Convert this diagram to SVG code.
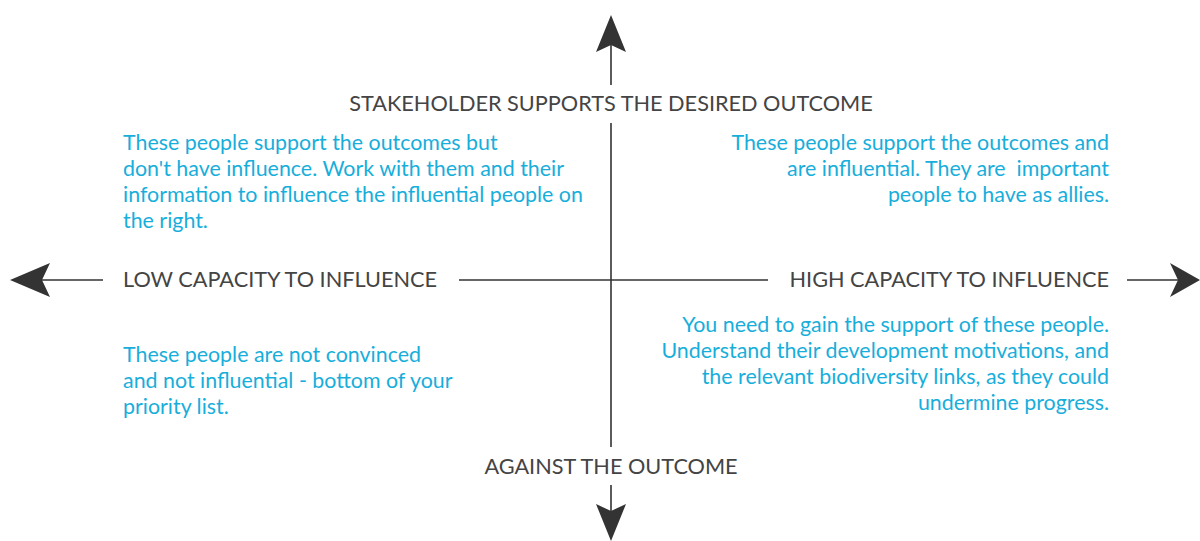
<svg xmlns="http://www.w3.org/2000/svg" width="1200" height="541" viewBox="0 0 1200 541">
<style>
.ax{font-family:Lato,"Liberation Sans",sans-serif;font-size:21.7px;fill:#444}
.q{font-family:Lato,"Liberation Sans",sans-serif;font-size:21.4px;fill:#17aedb;white-space:pre}
.ln{stroke:#333;stroke-width:1.6;fill:none}
.ah{fill:#333}
</style>
<rect width="1200" height="541" fill="#fff"/>
<g id="connectors">
<line class="ln" x1="611" y1="45" x2="611" y2="85"/>
<line class="ln" x1="611" y1="123" x2="611" y2="447"/>
<line class="ln" x1="611" y1="485" x2="611" y2="517"/>
<line class="ln" x1="42" y1="280" x2="103" y2="280"/>
<line class="ln" x1="459" y1="280" x2="768" y2="280"/>
<line class="ln" x1="1127" y1="280" x2="1190" y2="280"/>
<path class="ah" d="M611,15 L626,52 L611,45 L596,52 Z"/>
<path class="ah" d="M611,541 L626,504 L611,511 L596,504 Z"/>
<path class="ah" d="M10,280 L50,263 L42,280 L50,297 Z"/>
<path class="ah" d="M1200,280 L1170,263 L1178,280 L1170,297 Z"/>
</g>
<g id="axis-top"><text class="ax" x="611" y="111" text-anchor="middle">STAKEHOLDER SUPPORTS THE DESIRED OUTCOME</text></g>
<g id="axis-bottom"><text class="ax" x="611" y="474" text-anchor="middle">AGAINST THE OUTCOME</text></g>
<g id="axis-left"><text class="ax" x="123" y="287">LOW CAPACITY TO INFLUENCE</text></g>
<g id="axis-right"><text class="ax" x="1109" y="287" text-anchor="end">HIGH CAPACITY TO INFLUENCE</text></g>
<g id="q-top-left"><text class="q" x="123" y="150">These people support the outcomes but<tspan x="123" dy="26">don't have influence. Work with them and their</tspan><tspan x="123" dy="26">information to influence the influential people on</tspan><tspan x="123" dy="26">the right.</tspan></text></g>
<g id="q-top-right"><text class="q" x="1109" y="150" text-anchor="end">These people support the outcomes and<tspan x="1109" dy="26">are influential. They are  important</tspan><tspan x="1109" dy="26">people to have as allies.</tspan></text></g>
<g id="q-bottom-left"><text class="q" x="123" y="362">These people are not convinced<tspan x="123" dy="26">and not influential - bottom of your</tspan><tspan x="123" dy="26">priority list.</tspan></text></g>
<g id="q-bottom-right"><text class="q" x="1109" y="332" text-anchor="end">You need to gain the support of these people.<tspan x="1109" dy="26">Understand their development motivations, and</tspan><tspan x="1109" dy="26">the relevant biodiversity links, as they could</tspan><tspan x="1109" dy="26">undermine progress.</tspan></text></g>
</svg>
